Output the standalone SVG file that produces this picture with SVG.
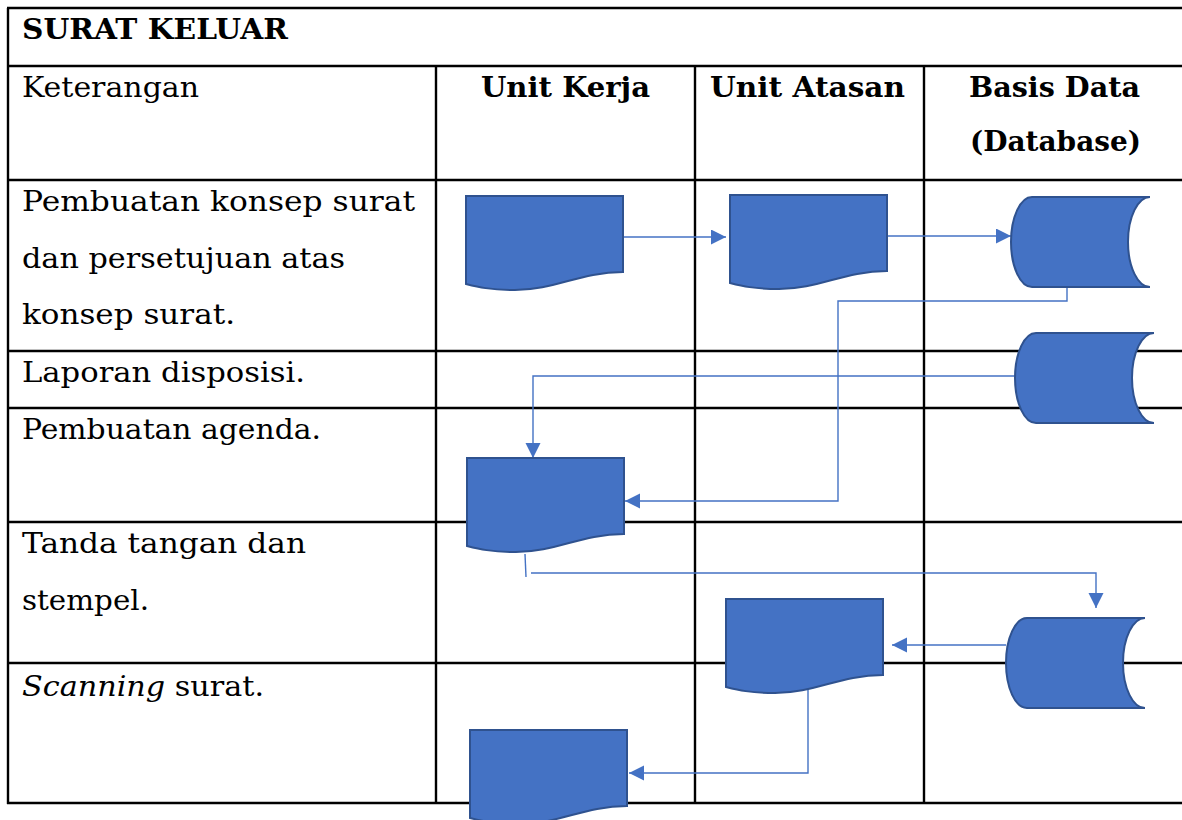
<svg xmlns="http://www.w3.org/2000/svg" xmlns:xlink="http://www.w3.org/1999/xlink" width="1182" height="820" viewBox="0 0 1182 820">
<style>
.grid{stroke:#000;stroke-width:2.4;fill:none}
.t{font-family:"DejaVu Serif","Liberation Serif",serif;font-size:27px;fill:#000}
.b{font-weight:bold}
.i{font-style:italic}
.c{text-anchor:middle}
.shape{fill:#4472C4;stroke:#2F528F;stroke-width:2}
.conn{stroke:#4472C4;stroke-width:1.4;fill:none}
</style>
<defs>
<path id="doc" d="M0,0 H157 V76 C114,76 89,94 49,94 C24,94 12,91 0,88 Z"/>
<path id="db" d="M21,0 H139 A22,45 0 0 0 139,90 H21 A21,45 0 0 1 21,0 Z"/>
<marker id="arr" markerUnits="userSpaceOnUse" markerWidth="16" markerHeight="16" refX="15" refY="7.5" orient="auto">
<path d="M0,0 L15,7.5 L0,15 Z" fill="#4472C4"/>
</marker>
</defs>
<rect width="1182" height="820" fill="#fff"/>
<g id="table">
<path class="grid" d="M7,8 H1190 M8,8 V804 M8,66 H1190 M8,180 H1190 M8,351 H1190 M8,408 H1190 M8,522 H1190 M8,663 H1190 M7,803 H1190 M436,66 V804 M695,66 V804 M924,66 V804"/>
<text class="t b" x="22" y="39" textLength="266" lengthAdjust="spacingAndGlyphs">SURAT KELUAR</text>
<text class="t" x="22" y="97" textLength="177" lengthAdjust="spacingAndGlyphs">Keterangan</text>
<text class="t b c" x="565.5" y="97" textLength="169" lengthAdjust="spacingAndGlyphs">Unit Kerja</text>
<text class="t b c" x="807.5" y="97" textLength="195" lengthAdjust="spacingAndGlyphs">Unit Atasan</text>
<text class="t b c" x="1054.5" y="97" textLength="171" lengthAdjust="spacingAndGlyphs">Basis Data</text>
<text class="t b c" x="1055.5" y="151" textLength="171" lengthAdjust="spacingAndGlyphs">(Database)</text>
<text class="t" x="22" y="211" textLength="393" lengthAdjust="spacingAndGlyphs">Pembuatan konsep surat</text>
<text class="t" x="22" y="268" textLength="323" lengthAdjust="spacingAndGlyphs">dan persetujuan atas</text>
<text class="t" x="22" y="324" textLength="213" lengthAdjust="spacingAndGlyphs">konsep surat.</text>
<text class="t" x="22" y="382" textLength="283" lengthAdjust="spacingAndGlyphs">Laporan disposisi.</text>
<text class="t" x="22" y="439" textLength="299" lengthAdjust="spacingAndGlyphs">Pembuatan agenda.</text>
<text class="t" x="22" y="553" textLength="284" lengthAdjust="spacingAndGlyphs">Tanda tangan dan</text>
<text class="t" x="22" y="610" textLength="127" lengthAdjust="spacingAndGlyphs">stempel.</text>
<text class="t" x="22" y="696" textLength="242" lengthAdjust="spacingAndGlyphs"><tspan class="i">Scanning</tspan> surat.</text>
</g>
<g id="connectors">
<path class="conn" d="M624,237 H726" marker-end="url(#arr)"/>
<path class="conn" d="M888,236 H1011" marker-end="url(#arr)"/>
<path class="conn" d="M1067,287 V301 H838 V501 H625" marker-end="url(#arr)"/>
<path class="conn" d="M1015,376 H533 V458" marker-end="url(#arr)"/>
<path class="conn" d="M525,554 L526,577"/>
<path class="conn" d="M531,573 H1096 V608" marker-end="url(#arr)"/>
<path class="conn" d="M1006,645 H892" marker-end="url(#arr)"/>
<path class="conn" d="M808,689 V773 H629" marker-end="url(#arr)"/>
</g>
<g id="doc1"><use xlink:href="#doc" href="#doc" class="shape" x="466" y="196"/></g>
<g id="doc2"><use xlink:href="#doc" href="#doc" class="shape" x="730" y="195"/></g>
<g id="db1"><use xlink:href="#db" href="#db" class="shape" x="1011" y="197"/></g>
<g id="db2"><use xlink:href="#db" href="#db" class="shape" x="1015" y="333"/></g>
<g id="doc3"><use xlink:href="#doc" href="#doc" class="shape" x="467" y="458"/></g>
<g id="doc4"><use xlink:href="#doc" href="#doc" class="shape" x="726" y="599"/></g>
<g id="db3"><use xlink:href="#db" href="#db" class="shape" x="1006" y="618"/></g>
<g id="doc5"><use xlink:href="#doc" href="#doc" class="shape" x="470" y="730"/></g>
</svg>
